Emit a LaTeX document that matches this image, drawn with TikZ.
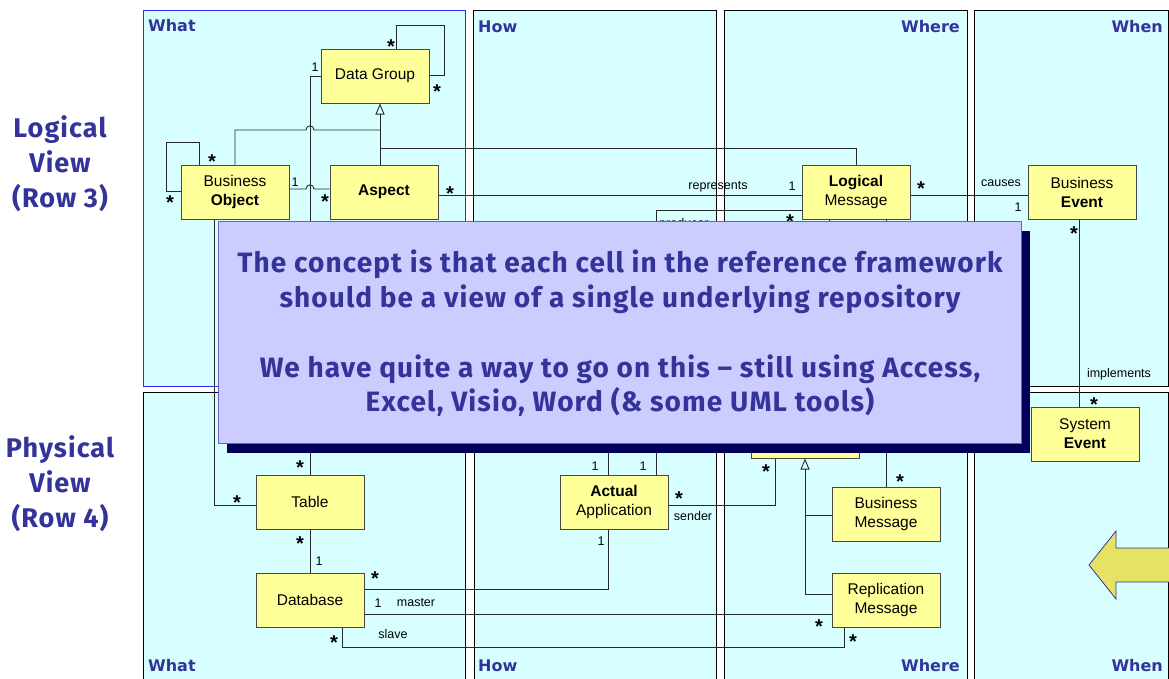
\documentclass[tikz,border=0pt]{standalone}
\usepackage{fontspec}
\setmainfont{Liberation Sans}
\newfontfamily\cellfont{DejaVu Sans}
\newfontfamily\notefont[LetterSpace=4]{Fira Sans}
\usetikzlibrary{arrows.meta,shadows}

\definecolor{cellfill}{RGB}{215,255,255}
\definecolor{umlfill}{RGB}{255,255,153}
\definecolor{umlline}{RGB}{70,70,70}
\definecolor{wirec}{RGB}{40,40,40}
\definecolor{navytext}{RGB}{51,51,153}
\definecolor{notefill}{RGB}{204,204,255}
\definecolor{noteline}{RGB}{100,100,200}
\definecolor{noteshadow}{RGB}{0,0,90}
\definecolor{whatblue}{RGB}{40,40,255}
\definecolor{arrowfill}{RGB}{230,226,100}

\tikzset{
  cell/.style={draw=black, fill=cellfill, line width=1pt},
  celltitle/.style={font=\cellfont\bfseries\fontsize{16}{18}\selectfont, text=navytext, inner sep=0pt},
  cls/.style={draw=umlline, fill=umlfill, line width=1pt, minimum width=108pt,
    minimum height=54pt, inner sep=0pt, align=center, font=\fontsize{15.5}{19}\selectfont},
  wire/.style={draw=wirec, line width=0.9pt},
  inherit/.style={wire, -{Triangle[open, length=11pt, width=9pt]}},
  mult/.style={font=\fontsize{12.5}{14}\selectfont, inner sep=0pt},
  star/.style={font=\bfseries\fontsize{20}{20}\selectfont, inner sep=0pt, anchor=base, yshift=-11pt},
  notebox/.style={draw=noteline, fill=notefill, line width=0.8pt, minimum width=803pt,
    minimum height=222pt, inner sep=0pt,
    general shadow={fill=noteshadow, shadow xshift=9pt, shadow yshift=-10pt}},
  notetext/.style={font=\notefont\bfseries\fontsize{28}{34.75}\selectfont, text=navytext,
    align=center, inner sep=0pt},
  rowlabel/.style={font=\notefont\bfseries\fontsize{27}{35}\selectfont, text=navytext,
    align=center, inner sep=0pt}
}

\begin{document}
\begin{tikzpicture}[x=1pt,y=-1pt]
\useasboundingbox (0,0) rectangle (1169,678);
\fill[white] (0,0) rectangle (1169,678);

% Framework cells: logical row (top) and physical row (bottom)
\path[cell, draw=whatblue] (143,10) rectangle (465,386);
\path[cell] (473,10) rectangle (716,386);
\path[cell] (724,10) rectangle (967,386);
\path[cell] (974,10) rectangle (1168,386);
\path[cell] (143,392) rectangle (465,682);
\path[cell] (474,392) rectangle (716,682);
\path[cell] (724,392) rectangle (967,682);
\path[cell] (974,392) rectangle (1168,682);

% Column titles
\node[celltitle, anchor=west] (what3) at (148,26) {What};
\node[celltitle, anchor=west] (how3) at (478,27) {How};
\node[celltitle, anchor=east] (where3) at (960,27) {Where};
\node[celltitle, anchor=east] (when3) at (1163,27) {When};
\node[celltitle, anchor=west] (what4) at (148,666) {What};
\node[celltitle, anchor=west] (how4) at (478,666) {How};
\node[celltitle, anchor=east] (where4) at (960,666) {Where};
\node[celltitle, anchor=east] (when4) at (1163,666) {When};

% Classes
\node[cls] (dg)  at (375,76)   {Data Group};
\node[cls] (bo)  at (235,192)  {Business\\\textbf{Object}};
\node[cls] (asp) at (384,192)  {\textbf{Aspect}};
\node[cls] (lm)  at (856,192)  {\textbf{Logical}\\Message};
\node[cls] (be)  at (1082,192) {Business\\\textbf{Event}};
\node[cls] (se)  at (1085,434) {System\\\textbf{Event}};
\node[cls] (tbl) at (310,502)  {Table};
\node[cls] (db)  at (310,600)  {Database};
\node[cls] (aa)  at (614,502)  {\textbf{Actual}\\Application};
\node[cls] (bm)  at (886,514)  {Business\\Message};
\node[cls] (rm)  at (886,600)  {Replication\\Message};
\node[cls] (pm)  at (805,431)  {};

% Junction points of the generalization trees
\coordinate (g1) at (380,130);
\coordinate (g2) at (380,148);
\coordinate (g3) at (805,515);

% Associations and generalizations
\draw[wire] (dg.north -| 396,0) |- (444,25) |- (dg.east |- 0,75);
\draw[wire] (dg.west) -| (tbl.north);
\draw[inherit] (asp.north -| 380,0) -- (dg.south -| 380,0);
\draw[wire] (bo.north) |- (306,130) .. controls (306,124.5) and (314,124.5) .. (314,130) -- (g1);
\draw[wire] (lm.north) |- (g2);
\draw[wire] (bo.north -| 199,0) |- (166,142) |- (bo.west |- 0,191);
\draw[wire] (bo.east |- 0,189) -- (306,189) .. controls (306,183.5) and (314,183.5) .. (314,189) -- (asp.west |- 0,189);
\draw[wire] (asp.east |- 0,195) -- (lm.west |- 0,195);
\draw[wire] (lm.west |- 0,210) -| (aa.north -| 656,0);
\draw[wire] (aa.north -| 608,0) |- (829,250) -- (lm.south -| 829,0);
\draw[wire] (lm.south -| 886,0) -- (bm.north);
\draw[wire] (lm.east |- 0,195) -- (be.west |- 0,195);
\draw[wire] (be.south -| 1079,0) -- (se.north -| 1079,0);
\draw[wire] (bo.south -| 214,0) |- (tbl.west |- 0,505);
\draw[wire] (tbl.south) -- (db.north);
\draw[wire] (db.east |- 0,589) -| (aa.south -| 608,0);
\draw[wire] (db.east |- 0,614) -- (rm.west |- 0,614);
\draw[wire] (db.south -| 342,0) |- (844,647) -- (rm.south -| 844,0);
\draw[wire] (aa.east |- 0,505) -| (pm.south -| 775,0);
\draw[inherit] (rm.west |- 0,594) -| (pm.south);
\draw[wire] (bm.west |- 0,515) -- (g3);

% Multiplicities and role names
\node[star] (s1) at (391,42) {*};
\node[star] (s2) at (437,87) {*};
\node[mult] (n1) at (315,67) {1};
\node[star] (s3) at (212,157) {*};
\node[star] (s4) at (170,198) {*};
\node[mult] (n2) at (295,182) {1};
\node[star] (s5) at (325,197) {*};
\node[star] (s6) at (450,189) {*};
\node[mult] (r1) at (718,187) {represents};
\node[mult] (n3) at (792,186) {1};
\node[mult, anchor=base west] (r2) at (659,227) {producer};
\node[star] (s7) at (790,217) {*};
\node[star] (s8) at (921,184) {*};
\node[mult] (r3) at (1001,183) {causes};
\node[mult] (n4) at (1018,207) {1};
\node[star] (s9) at (1074,229) {*};
\node[mult] (r4) at (1119,374) {implements};
\node[star] (s10) at (1094,400) {*};
\node[star] (s11) at (300,463) {*};
\node[star] (s12) at (237,498) {*};
\node[star] (s13) at (300,539) {*};
\node[mult] (n5) at (319,561) {1};
\node[star] (s14) at (375,574) {*};
\node[mult] (n6) at (378,603) {1};
\node[mult] (r5) at (416,603) {master};
\node[star] (s15) at (334,638) {*};
\node[mult] (r6) at (393,634) {slave};
\node[mult] (n7) at (595,466) {1};
\node[mult] (n8) at (643,466) {1};
\node[star] (s16) at (679,494) {*};
\node[mult] (r7) at (693,516) {sender};
\node[mult] (n9) at (601,541) {1};
\node[star] (s17) at (766,467) {*};
\node[star] (s18) at (900,477) {*};
\node[star] (s19) at (819,622) {*};
\node[star] (s20) at (853,637) {*};

% Call-out note over the diagram
\node[notebox] (note) at (619.5,332) {};
\node[notetext, anchor=north] (notetxt) at (620,250)
  {The concept is that each cell in the reference framework\\
   should be a view of a single underlying repository\\[34.75pt]
   We have quite a way to go on this – still using Access,\\
   Excel, Visio, Word (\& some UML tools)};

% Row captions
\node[rowlabel, anchor=north] (row3) at (60,115) {Logical\\View\\(Row 3)};
\node[rowlabel, anchor=north] (row4) at (60,435) {Physical\\View\\(Row 4)};

% Pointer arrow at the right edge
\filldraw[fill=arrowfill, draw=navytext, line width=0.8pt]
  (1172,548) -- (1116,548) -- (1116,531) -- (1089,565) -- (1116,599) -- (1116,582) -- (1172,582);
\end{tikzpicture}
\end{document}
